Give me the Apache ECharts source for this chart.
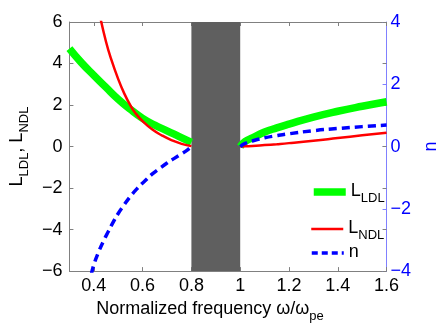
<!DOCTYPE html>
<html>
<head>
<meta charset="utf-8">
<script src="https://cdn.jsdelivr.net/npm/echarts@6/dist/echarts.min.js"></script>
<style>
  html, body { margin: 0; padding: 0; background: #fff; }
  #chart { width: 448px; height: 328px; }
</style>
</head>
<body>
<div id="chart"></div>
<script>
// --- data ---
const xTicks = [0.4, 0.6, 0.8, 1.0, 1.2, 1.4, 1.6];
const gapBand = [0.8, 1.0];

// L_LDL (left axis)
const ldlFreqLeft = [0.30, 0.35, 0.40, 0.45, 0.50, 0.55, 0.60, 0.65, 0.70, 0.75, 0.80];
const ldlLeft = [4.72, 4.03, 3.43, 2.85, 2.28, 1.79, 1.36, 1.03, 0.76, 0.48, 0.20];
// L_NDL (left axis)
const ndlFreqLeft = [0.425, 0.45, 0.47, 0.50, 0.525, 0.55, 0.57, 0.60, 0.64, 0.68, 0.72, 0.76, 0.80];
const ndlLeft = [6.3, 5.05, 4.25, 3.25, 2.55, 1.98, 1.62, 1.22, 0.82, 0.53, 0.30, 0.13, 0.02];
// n (right axis)
const nFreqLeft = [0.39, 0.40, 0.42, 0.44, 0.46, 0.48, 0.50, 0.52, 0.55, 0.58, 0.61, 0.64, 0.67, 0.70, 0.73, 0.76, 0.78, 0.80];
const nLeft = [-4.1, -3.8, -3.38, -3.03, -2.72, -2.42, -2.15, -1.92, -1.60, -1.33, -1.10, -0.88, -0.70, -0.53, -0.38, -0.23, -0.13, 0.0];

// above the band
const freqRight = [1.0, 1.02, 1.05, 1.1, 1.15, 1.2, 1.3, 1.4, 1.5, 1.6];
const ldlRight = [0, 0.24, 0.42, 0.70, 0.90, 1.08, 1.42, 1.70, 1.94, 2.16];
const ndlRight = [0, 0.01, 0.025, 0.07, 0.115, 0.165, 0.28, 0.41, 0.54, 0.67];
const nRight = [0, 0.10, 0.18, 0.28, 0.35, 0.41, 0.51, 0.58, 0.64, 0.69];

const FONT = 'Liberation Sans, Arial, sans-serif';
const GREEN = '#00ff00', RED = '#ff0000', BLUE = '#0000ff';

function pairs(xs, ys) {
  return xs.map((x, i) => [x, ys[i]]);
}
function minus(v) {
  return String(v).replace('-', '\u2212');
}
function rich(color) {
  return {
    a: { fontSize: 18, lineHeight: 20, verticalAlign: 'top', fontFamily: FONT, color: color },
    s: { fontSize: 13, lineHeight: 14, padding: [10, 0, 0, 0], verticalAlign: 'top', fontFamily: FONT, color: color }
  };
}

const chart = echarts.init(document.getElementById('chart'), null, { renderer: 'canvas' });

const lineBase = { type: 'line', showSymbol: false, symbol: 'none', smooth: true, animation: false };
const green = { name: 'LDL', xAxisIndex: 0, yAxisIndex: 0, lineStyle: { color: GREEN, width: 7.5 }, itemStyle: { color: GREEN } };
const red = { name: 'NDL', xAxisIndex: 0, yAxisIndex: 0, lineStyle: { color: RED, width: 2.5 }, itemStyle: { color: RED } };
const blue = { name: 'n', xAxisIndex: 0, yAxisIndex: 1, lineStyle: { color: BLUE, width: 3.5, type: [8, 5] }, itemStyle: { color: BLUE } };

function legendFor(name, top, lineStyle) {
  return {
    data: [name],
    left: 310,
    top: top,
    padding: 0,
    orient: 'vertical',
    itemWidth: 32,
    itemHeight: 14,
    selectedMode: false,
    lineStyle: lineStyle,
    itemStyle: { color: 'rgba(0,0,0,0)', borderColor: 'rgba(0,0,0,0)', borderWidth: 0 },
    formatter: n => n === 'n' ? '{a|n}' : '{a|L}{s|' + n + '}',
    textStyle: { rich: rich('#000') }
  };
}

chart.setOption({
  animation: false,
  textStyle: { fontFamily: FONT },
  grid: { left: 63, right: 45, top: 22, bottom: 51 },
  legend: [
    legendFor('LDL', 182, { width: 7.5 }),
    legendFor('NDL', 219, { width: 2.5 }),
    legendFor('n', 243, { width: 3.5, type: [6, 4] })
  ],
  xAxis: [{
    type: 'value', min: 0.3, max: 1.6, position: 'bottom',
    name: '{a|Normalized frequency \u03c9/\u03c9}{s|pe}',
    nameLocation: 'middle', nameGap: 23,
    nameTextStyle: { rich: rich('#000'), padding: [0, 36, 0, 0] },
    axisLine: { onZero: false, lineStyle: { color: '#808080', width: 1 } },
    axisTick: { inside: true, length: 4, customValues: xTicks, lineStyle: { color: '#808080' } },
    axisLabel: { customValues: xTicks, margin: 6, fontSize: 18, color: '#000', fontFamily: FONT },
    splitLine: { show: false }
  }, {
    type: 'value', min: 0.3, max: 1.6, position: 'top',
    axisLine: { show: true, onZero: false, lineStyle: { color: '#808080', width: 1 } },
    axisTick: { inside: true, length: 4, customValues: xTicks, lineStyle: { color: '#808080' } },
    axisLabel: { show: false },
    splitLine: { show: false }
  }],
  yAxis: [{
    type: 'value', min: -6, max: 6, interval: 2, position: 'left',
    name: '{a|L}{s|LDL}{a|, L}{s|NDL}',
    nameLocation: 'middle', nameRotate: 90, nameGap: 32,
    nameTextStyle: { rich: rich('#000') },
    axisLine: { show: true, onZero: false, lineStyle: { color: '#808080', width: 1 } },
    axisTick: { inside: true, length: 4, lineStyle: { color: '#808080' } },
    axisLabel: { margin: 7, fontSize: 18, color: '#000', fontFamily: FONT, formatter: minus },
    splitLine: { show: false }
  }, {
    type: 'value', min: -4, max: 4, interval: 2, position: 'right',
    name: 'n',
    nameLocation: 'middle', nameRotate: 90, nameGap: 32,
    nameTextStyle: { fontSize: 18, color: BLUE, fontFamily: FONT },
    axisLine: { show: true, onZero: false, lineStyle: { color: '#8080ff', width: 1 } },
    axisTick: { inside: true, length: 4, lineStyle: { color: '#8080ff' } },
    axisLabel: { margin: 4, fontSize: 18, color: BLUE, fontFamily: FONT, formatter: minus },
    splitLine: { show: false }
  }, {
    type: 'value', min: -6, max: 6, interval: 2, position: 'right',
    axisLine: { show: false, onZero: false },
    axisTick: { inside: true, length: 4, lineStyle: { color: '#808080' } },
    axisLabel: { show: false },
    splitLine: { show: false }
  }],
  series: [
    Object.assign({}, lineBase, green, {
      data: pairs(ldlFreqLeft, ldlLeft),
      markArea: {
        silent: true,
        itemStyle: { color: '#5f5f5f' },
        data: [[{ xAxis: gapBand[0] }, { xAxis: gapBand[1] }]]
      }
    }),
    Object.assign({}, lineBase, green, { data: pairs(freqRight, ldlRight) }),
    Object.assign({}, lineBase, red, { data: pairs(ndlFreqLeft, ndlLeft) }),
    Object.assign({}, lineBase, red, { data: pairs(freqRight, ndlRight) }),
    Object.assign({}, lineBase, blue, { data: pairs(nFreqLeft, nLeft) }),
    Object.assign({}, lineBase, blue, { data: pairs(freqRight, nRight) })
  ]
});
</script>
</body>
</html>
